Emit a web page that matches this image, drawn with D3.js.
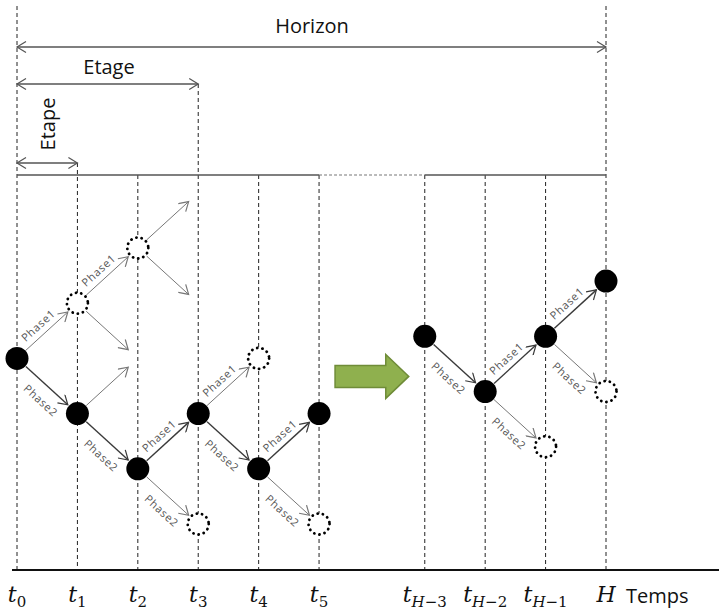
<!DOCTYPE html>
<html>
<head>
<meta charset="utf-8">
<script src="https://cdn.jsdelivr.net/npm/d3@7"></script>
<style>
  body { margin: 0; background: #fff; }
  svg { display: block; }
</style>
</head>
<body>
<div id="chart"></div>
<script>
// time steps (position in "step" units, gap between t5 and tH-3)
var stepPos   = [0, 1, 2, 3, 4, 5, 6.75, 7.75, 8.75, 9.75];
var stepBase  = ["t", "t", "t", "t", "t", "t", "t", "t", "t", "H"];
var stepSubA  = ["", "", "", "", "", "", "H", "H", "H", ""];
var stepSubB  = ["0", "1", "2", "3", "4", "5", "\u22123", "\u22122", "\u22121", ""];

// decided nodes [step, level]
var filledNodes = [[0, 0], [1, -1], [2, -2], [3, -1], [4, -2], [5, -1],
                   [6, 0.4], [7, -0.6], [8, 0.4], [9, 1.4]];
// possible (not chosen) nodes
var dottedNodes = [[1, 1], [2, 2], [3, -3], [4, 0], [5, -3], [8, -1.6], [9, -0.6]];
// solid path edges [fromStep, fromLevel, toStep, toLevel, label]
var mainEdges = [[0, 0, 1, -1, "Phase2"], [1, -1, 2, -2, "Phase2"], [2, -2, 3, -1, "Phase1"],
                 [3, -1, 4, -2, "Phase2"], [4, -2, 5, -1, "Phase1"],
                 [6, 0.4, 7, -0.6, "Phase2"], [7, -0.6, 8, 0.4, "Phase1"], [8, 0.4, 9, 1.4, "Phase1"]];
// alternative edges
var altEdges = [[0, 0, 1, 1, "Phase1"], [1, 1, 2, 2, "Phase1"], [2, 2, 3, 3, ""], [2, 2, 3, 1, ""],
                [1, 1, 2, 0, ""], [1, -1, 2, 0, ""], [2, -2, 3, -3, "Phase2"], [3, -1, 4, 0, "Phase1"],
                [4, -2, 5, -3, "Phase2"], [7, -0.6, 8, -1.6, "Phase2"], [8, 0.4, 9, -0.6, "Phase2"]];
// spans at the top
var spanLabels = ["Horizon", "Etage", "Etape"];
var spanEnd    = [9, 3, 1];

var width = 719, height = 610;
var svg = d3.select("#chart").append("svg")
        .attr("width", width)
        .attr("height", height);

var x = d3.scaleLinear().domain([0, 9.75]).range([17, 606]);
var y = d3.scaleLinear().domain([-3, 2]).range([524, 248]);
var sx = function (i) { return x(stepPos[i]); };

var defs = svg.append("defs");
function addMarker(id, color, orient) {
    defs.append("marker")
        .attr("id", id)
        .attr("viewBox", "-10 -6 12 12")
        .attr("refX", 0).attr("refY", 0)
        .attr("markerWidth", 12).attr("markerHeight", 12)
        .attr("markerUnits", "userSpaceOnUse")
        .attr("orient", orient)
        .append("path")
        .attr("d", "M-9,-5.5L0,0L-9,5.5")
        .attr("fill", "none")
        .attr("stroke", color)
        .attr("stroke-width", 1.2);
}
addMarker("arrMain", "#3a3a3a", "auto");
addMarker("arrAlt", "#777", "auto");
addMarker("arrSpan", "#555", "auto-start-reverse");

var axisY = 570, topY = 175;
var labelFont = "'Open Sans', sans-serif";

// vertical dashed lines
var lineTop = stepPos.map(function (d, i) {
    if (i === 0 || i === 9) return 6;
    if (i === 3) return 84;
    if (i === 1) return 163;
    return topY;
});
svg.append("g").selectAll("line")
        .data(stepPos)
        .enter()
        .append("line")
        .attr("x1", function (d) { return x(d); })
        .attr("x2", function (d) { return x(d); })
        .attr("y1", function (d, i) { return lineTop[i]; })
        .attr("y2", axisY)
        .attr("stroke", "#222")
        .attr("stroke-width", 1)
        .attr("stroke-dasharray", "4,3");

// top horizontal line
svg.append("line").attr("x1", sx(0)).attr("x2", sx(5)).attr("y1", topY).attr("y2", topY)
        .attr("stroke", "#555").attr("stroke-width", 1.5);
svg.append("line").attr("x1", sx(5)).attr("x2", sx(6)).attr("y1", topY).attr("y2", topY)
        .attr("stroke", "#777").attr("stroke-width", 1.2).attr("stroke-dasharray", "3,2");
svg.append("line").attr("x1", sx(6)).attr("x2", sx(9)).attr("y1", topY).attr("y2", topY)
        .attr("stroke", "#555").attr("stroke-width", 1.5);

// spans
var spanY = [47, 84, 163];
spanLabels.forEach(function (lab, i) {
    svg.append("line")
        .attr("x1", sx(0)).attr("x2", sx(spanEnd[i]))
        .attr("y1", spanY[i]).attr("y2", spanY[i])
        .attr("stroke", "#555").attr("stroke-width", 1.3)
        .attr("marker-start", "url(#arrSpan)")
        .attr("marker-end", "url(#arrSpan)");
});
svg.append("text").attr("x", 312).attr("y", 33).attr("text-anchor", "middle")
        .style("font-family", labelFont).style("font-size", "20px").attr("fill", "#111").text(spanLabels[0]);
svg.append("text").attr("x", 109).attr("y", 74).attr("text-anchor", "middle")
        .style("font-family", labelFont).style("font-size", "20px").attr("fill", "#111").text(spanLabels[1]);
svg.append("text").attr("transform", "translate(55,124) rotate(-90)").attr("text-anchor", "middle")
        .style("font-family", labelFont).style("font-size", "20px").attr("fill", "#111").text(spanLabels[2]);

// edges
var R = 12;
function drawEdges(data, cls, color, sw, marker) {
    var g = svg.append("g").attr("class", cls);
    data.forEach(function (e) {
        var x1 = sx(e[0]), y1 = y(e[1]), x2 = sx(e[2]), y2 = y(e[3]);
        var dx = x2 - x1, dy = y2 - y1, len = Math.sqrt(dx * dx + dy * dy);
        var ux = dx / len, uy = dy / len;
        g.append("line")
            .attr("x1", x1 + ux * R).attr("y1", y1 + uy * R)
            .attr("x2", x2 - ux * (R + 1)).attr("y2", y2 - uy * (R + 1))
            .attr("stroke", color).attr("stroke-width", sw)
            .attr("marker-end", "url(#" + marker + ")");
        if (e[4]) {
            var ang = Math.atan2(dy, dx) * 180 / Math.PI;
            var up = dy < 0;
            g.append("text")
                .attr("transform", "translate(" + ((x1 + x2) / 2) + "," + ((y1 + y2) / 2) + ") rotate(" + ang + ")")
                .attr("x", up ? -3 : 5)
                .attr("y", up ? -6 : 19)
                .attr("text-anchor", "middle")
                .style("font", "11px 'Open Sans', sans-serif")
                .style("letter-spacing", "0.7px")
                .attr("fill", "#555")
                .text(e[4]);
        }
    });
}
drawEdges(altEdges, "alt", "#777", 1, "arrAlt");
drawEdges(mainEdges, "main", "#3a3a3a", 1.4, "arrMain");

// nodes
svg.append("g").selectAll("circle")
        .data(filledNodes)
        .enter()
        .append("circle")
        .attr("cx", function (d) { return sx(d[0]); })
        .attr("cy", function (d) { return y(d[1]); })
        .attr("r", 11.5)
        .attr("fill", "#000");
svg.append("g").selectAll("circle")
        .data(dottedNodes)
        .enter()
        .append("circle")
        .attr("cx", function (d) { return sx(d[0]); })
        .attr("cy", function (d) { return y(d[1]); })
        .attr("r", 10.5)
        .attr("fill", "#fff")
        .attr("stroke", "#000")
        .attr("stroke-width", 2.8)
        .attr("stroke-linecap", "round")
        .attr("stroke-dasharray", "0.1,5.2");

// green arrow between the two parts
var ax0 = sx(5) + 16, ax1 = sx(6) - 16, ahx = ax1 - 23, acy = y(0) + 18;
svg.append("path")
        .attr("d", "M" + ax0 + "," + (acy - 11) + "L" + ahx + "," + (acy - 11) + "L" + ahx + "," + (acy - 22) +
                "L" + ax1 + "," + acy + "L" + ahx + "," + (acy + 22) + "L" + ahx + "," + (acy + 11) +
                "L" + ax0 + "," + (acy + 11) + "Z")
        .attr("fill", "#8fb04e")
        .attr("stroke", "#6f8c38")
        .attr("stroke-width", 1.5);

// time axis
svg.append("line").attr("x1", 12).attr("x2", width).attr("y1", axisY).attr("y2", axisY)
        .attr("stroke", "#111").attr("stroke-width", 2);

var labs = svg.append("g").selectAll("text")
        .data(stepPos)
        .enter()
        .append("text")
        .attr("x", function (d) { return x(d); })
        .attr("y", 602)
        .attr("text-anchor", "middle")
        .style("font-family", "'DejaVu Serif', serif")
        .attr("fill", "#111");
labs.append("tspan")
        .style("font-size", "22px")
        .style("font-style", "italic")
        .text(function (d, i) { return stepBase[i]; });
labs.append("tspan")
        .attr("dy", 5)
        .style("font-size", "15px")
        .style("font-style", "italic")
        .text(function (d, i) { return stepSubA[i]; });
labs.append("tspan")
        .attr("dy", function (d, i) { return stepSubA[i] ? 0 : 5; })
        .style("font-size", "15px")
        .text(function (d, i) { return stepSubB[i]; });

svg.append("text").attr("x", 626).attr("y", 603)
        .style("font-family", labelFont).style("font-size", "20px").attr("fill", "#111").text("Temps");
</script>
</body>
</html>
